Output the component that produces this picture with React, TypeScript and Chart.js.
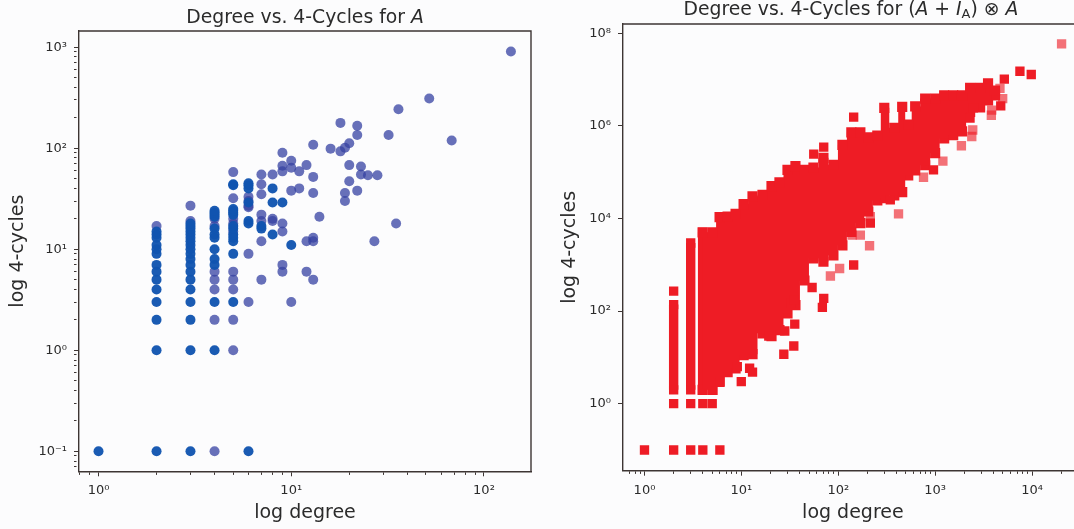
import React, { useEffect, useRef } from "react";
import { Chart, registerables } from "chart.js";

Chart.register(...registerables);

// ---------- Left panel: (degree, 4-cycles); zero counts are plotted at 0.1
const singlePoints = [
  [138, 905], [52, 310], [36, 243], [68, 119], [32, 135], [22, 167], [22, 135], [18, 178], [20, 112], [19, 101], [18, 93],
  [16, 99], [13, 108], [9, 90], [10, 75], [10, 64], [9, 67], [9, 59], [11, 59], [12, 68], [8, 55], [13, 52], [20, 68],
  [23, 66], [23, 55], [25, 54], [28, 54], [20, 47], [22, 38], [19, 36], [19, 30], [13, 36], [10, 38], [11, 40], [14, 21],
  [35, 18], [27, 12], [8, 20], [8, 19], [9, 18], [9, 15], [12, 12], [13, 13], [13, 12], [9, 7], [9, 6], [12, 6], [13, 5],
  [10, 3], [7, 5], [7, 55], [7, 44], [7, 35], [7, 22], [7, 19], [7, 12], [6, 9], [6, 3], [6, 33], [6, 30], [6, 27], [6, 26],
  [5, 58], [5, 32], [5, 20], [5, 18], [5, 15], [5, 6], [5, 5], [5, 4], [5, 2], [5, 1], [4, 6], [4, 5], [4, 4], [4, 2], [4, 0.1],
  [4, 20], [4, 17], [3, 27], [3, 19], [2, 17],
];
const densePoints = [
  [1, 0.1], [2, 0.1], [3, 0.1], [6, 0.1], [2, 1], [3, 1], [4, 1], [2, 2], [3, 2], [2, 3], [3, 3], [4, 3], [5, 3],
  [2, 4], [2, 5], [2, 6], [2, 7], [2, 9], [2, 10], [2, 11], [2, 13], [2, 14], [2, 15],
  [3, 4], [3, 5], [3, 6], [3, 7], [3, 8], [3, 9], [3, 10], [3, 11], [3, 12], [3, 13], [3, 14], [3, 15], [3, 16], [3, 17], [3, 18],
  [4, 7], [4, 8], [4, 10], [4, 13], [4, 14], [4, 16], [4, 21], [4, 22], [4, 23], [4, 24],
  [5, 9], [5, 12], [5, 13], [5, 14], [5, 16], [5, 17], [5, 22], [5, 23], [5, 24], [5, 25], [5, 43], [5, 44],
  [6, 18], [6, 19], [6, 29], [6, 40], [6, 43], [6, 45], [7, 16], [7, 17], [8, 14], [8, 29], [8, 40], [9, 29], [10, 11],
];

// ---------- Right panel: log10 values
const massLogDegree = [0.6, 0.703, 0.775, 0.858, 0.94, 1.023, 1.115, 1.218, 1.311, 1.393, 1.476, 1.558, 1.651, 1.744, 1.847, 1.95, 2.043, 2.135, 2.228, 2.31, 2.403, 2.475, 2.578, 2.66, 2.722, 2.794, 2.897, 3.0, 3.093, 3.186, 3.278, 3.361, 3.464, 3.546, 3.618];
const massLogCyclesHigh = [3.7, 3.7, 4.03, 4.04, 4.1, 4.31, 4.48, 4.51, 4.7, 4.78, 5.05, 5.13, 5.05, 5.1, 5.31, 5.16, 5.59, 5.86, 5.86, 5.75, 5.79, 6.39, 5.96, 6.41, 6.03, 6.42, 6.59, 6.59, 6.66, 6.66, 6.66, 6.82, 6.82, 6.92, 6.76];
const massLogCyclesLow = [0.3, 0.3, 0.47, 0.68, 0.76, 1.05, 1.07, 1.52, 1.46, 1.59, 1.95, 2.13, 2.66, 3.14, 3.07, 3.2, 3.42, 3.71, 3.9, 4.15, 4.39, 4.44, 4.5, 4.57, 4.93, 5.04, 5.15, 5.41, 5.73, 5.8, 5.88, 6.3, 6.4, 6.55, 6.66];
const degreeTwoRun = [[0.301, 2.14], [0.301, 0.3]];
const degreeThreeRun = [[0.477, 3.47], [0.477, 0.3]];
const degreeFourRun = [[0.6, 3.7], [0.6, 0.3]];
const massEndRun = [[3.618, 6.76], [3.618, 6.66]];
const solidSquares = [
  [0, -1], [0.301, -1], [0.477, -1], [0.602, -1], [0.778, -1], [0.301, 0], [0.477, 0], [0.602, 0], [0.699, 0], [0.301, 2.43],
  [0.999, 0.475], [1.085, 0.765], [1.115, 0.68], [0.958, 0.8], [0.779, 0.475], [1.438, 1.067], [1.541, 1.246], [1.448, 1.57], [1.551, 1.72],
  [1.283, 1.46], [1.73, 2.51], [1.836, 2.08], [1.85, 2.276], [1.514, 2.168], [1.541, 2.24], [2.159, 2.996], [2.331, 3.9], [2.159, 6.19], [1.85, 5.54], [1.747, 5.39],
  [2.983, 5.05], [3.677, 6.43], [3.714, 7.01], [3.875, 7.18], [3.992, 7.11], [3.395, 6.39], [3.36, 6.17], [2.537, 4.4],
];
const faintSquares = [
  [4.305, 7.77], [2.622, 4.1], [2.323, 3.41], [2.014, 2.92], [1.919, 2.758], [2.88, 4.89], [3.08, 5.24], [3.271, 5.57], [3.378, 5.77], [3.388, 5.91],
  [3.58, 6.23], [3.697, 6.59], [3.669, 6.81], [2.228, 3.64], [2.142, 3.64], [2.331, 4.04], [3.584, 6.34],
];

const leftTitleRuns = [["Degree vs. 4-Cycles for ", "n"], ["A", "i"]];
const rightTitleRuns = [["Degree vs. 4-Cycles for (", "n"], ["A", "i"], [" + ", "n"], ["I", "i"], ["A", "s"], [") ⊗ ", "n"], ["A", "i"]];

const INK = "#2b2b2b";
const EDGE = "#3d3533";
const FONT = "'DejaVu Sans'";
const RED = "#ee1c25";
const RED_FAINT = "rgba(238,28,37,0.62)";

const fromLog = (pairs: number[][]) => pairs.map(([x, y]) => ({ x: 10 ** x, y: 10 ** y }));
const fromPairs = (pairs: number[][]) => pairs.map(([x, y]) => ({ x, y }));
const isDecade = (v: number) => Math.abs(Math.log10(v) - Math.round(Math.log10(v))) < 1e-9;

const logAxis = (o: any) => ({
  type: "logarithmic",
  min: o.min,
  max: o.max,
  afterFit: (s: any) => {
    if (o.size.w !== undefined) s.width = o.size.w;
    if (o.size.h !== undefined) s.height = o.size.h;
  },
  afterBuildTicks: (s: any) => {
    const out: any[] = [];
    for (let e = Math.floor(Math.log10(o.min)); e <= Math.ceil(Math.log10(o.max)); e++) {
      if (o.every && e % o.every !== 0) continue;
      for (let k = 1; k <= (o.minor ? 9 : 1); k++) {
        const value = Number(`${k}e${e}`);
        if (value >= o.min && value <= o.max) out.push({ value, major: k === 1 });
      }
    }
    s.ticks = out;
  },
  title: {
    display: true,
    text: o.label,
    color: INK,
    font: { family: FONT, size: 19 },
    padding: o.titlePadding,
  },
  border: { display: true, color: EDGE, width: 1.4 },
  grid: {
    display: true,
    drawOnChartArea: false,
    drawTicks: true,
    tickLength: 5,
    tickColor: EDGE,
    tickWidth: 1,
    tickBorderDash: (c: any) => (c.tick && isDecade(c.tick.value) ? [] : [2.5, 10]),
  },
  ticks: {
    autoSkip: false,
    maxRotation: 0,
    minRotation: 0,
    padding: o.tickPadding,
    color: INK,
    font: { family: FONT, size: 13 },
    callback: (v: number) => {
      if (!isDecade(v)) return "";
      const sup: Record<string, string> = { "-": "⁻", "0": "⁰", "1": "¹", "2": "²", "3": "³", "4": "⁴", "6": "⁶", "8": "⁸" };
      const e = String(Math.round(Math.log10(v)));
      return "10" + e.split("").map((c) => sup[c]).join("");
    },
  },
});

const framePlugin = (runs: string[][], baseline: number, centerShift: number, closeRight: boolean) => ({
  id: "frameAndTitle",
  afterDraw(chart: any) {
    const { ctx, chartArea: a } = chart;
    ctx.save();
    ctx.strokeStyle = EDGE;
    ctx.lineWidth = 1.4;
    ctx.beginPath();
    ctx.moveTo(a.left, a.top);
    ctx.lineTo(a.right, a.top);
    if (closeRight) ctx.lineTo(a.right, a.bottom);
    ctx.stroke();
    const fontOf = (k: string) =>
      k === "i" ? `italic 18.8px ${FONT}` : k === "s" ? `13px ${FONT}` : `18.8px ${FONT}`;
    let width = 0;
    runs.forEach(([t, k]) => {
      ctx.font = fontOf(k);
      width += ctx.measureText(t).width;
    });
    let x = (a.left + a.right) / 2 + centerShift - width / 2;
    ctx.fillStyle = INK;
    ctx.textAlign = "left";
    ctx.textBaseline = "alphabetic";
    runs.forEach(([t, k]) => {
      ctx.font = fontOf(k);
      ctx.fillText(t, x, baseline + (k === "s" ? 3 : 0));
      x += ctx.measureText(t).width;
    });
    ctx.restore();
  },
});

export default function App() {
  const leftRef = useRef<HTMLCanvasElement>(null);
  const rightRef = useRef<HTMLCanvasElement>(null);

  useEffect(() => {
    const squares = { pointStyle: "rect", pointRadius: 6.6, pointBorderWidth: 0 };
    const massSquares = { pointStyle: "rect", pointRadius: 7.2, pointBorderWidth: 0 };
    const run = (label: string, pairs: number[][]) => ({
      label,
      data: fromLog(pairs),
      showLine: true,
      borderColor: RED,
      borderWidth: 9.4,
      backgroundColor: RED,
      ...squares,
    });
    const left = new Chart(leftRef.current as any, {
      type: "scatter",
      data: {
        datasets: [
          { label: "repeated", data: fromPairs(densePoints), backgroundColor: "rgba(17,84,176,0.96)", pointRadius: 5, pointBorderWidth: 0 },
          { label: "A", data: fromPairs(singlePoints), backgroundColor: "rgba(53,66,162,0.75)", pointRadius: 5, pointBorderWidth: 0 },
        ],
      },
      options: {
        animation: false,
        responsive: false,
        layout: { padding: { top: 31, right: 9, left: 0, bottom: 0 } },
        plugins: { legend: { display: false }, tooltip: { enabled: false } },
        scales: {
          x: logAxis({ min: 0.792, max: 175.4, minor: true, label: "log degree", size: { h: 57.7 }, tickPadding: 7, titlePadding: { top: 0, bottom: 4.6 } }),
          y: logAxis({ min: 0.0634, max: 1445, minor: true, label: "log 4-cycles", size: { w: 79 }, tickPadding: 7, titlePadding: { top: 6.6, bottom: 0 } }),
        },
      },
      plugins: [framePlugin(leftTitleRuns, 22.5, 0, true)],
    } as any);

    const massPts = (ys: number[]) => fromLog(massLogDegree.map((x, i) => [x, ys[i]]));
    const right = new Chart(rightRef.current as any, {
      type: "scatter",
      data: {
        datasets: [
          { label: "solid", data: fromLog(solidSquares), backgroundColor: RED, ...squares },
          { label: "high", data: massPts(massLogCyclesHigh), showLine: true, stepped: "middle", borderWidth: 0, fill: "+1", backgroundColor: RED, pointBackgroundColor: RED, ...massSquares },
          { label: "low", data: massPts(massLogCyclesLow), showLine: true, stepped: "middle", borderWidth: 0, backgroundColor: RED, ...massSquares },
          run("degree 2", degreeTwoRun),
          run("degree 3", degreeThreeRun),
          run("degree 4", degreeFourRun),
          run("mass end", massEndRun),
          { label: "faint", data: fromLog(faintSquares), backgroundColor: RED_FAINT, ...squares },
        ],
      },
      options: {
        animation: false,
        responsive: false,
        layout: { padding: { top: 24, right: 7, left: 0, bottom: 0 } },
        plugins: { legend: { display: false }, tooltip: { enabled: false } },
        scales: {
          x: logAxis({ min: 0.612, max: 33420, minor: true, label: "log degree", size: { h: 58.3 }, tickPadding: 7, titlePadding: { top: 0, bottom: 4.6 } }),
          y: logAxis({ min: 0.0357, max: 1.585e8, minor: false, every: 2, label: "log 4-cycles", size: { w: 78 }, tickPadding: 7, titlePadding: { top: 13.6, bottom: 0 } }),
        },
      },
      plugins: [framePlugin(rightTitleRuns, 14.5, -2, false)],
    } as any);

    return () => {
      left.destroy();
      right.destroy();
    };
  }, []);

  return (
    <div style={{ position: "fixed", left: 0, top: 0, width: 1074, height: 529, background: "#fcfcfd", overflow: "hidden" }}>
      <canvas ref={leftRef} width={540} height={529} style={{ position: "absolute", left: 0, top: 0 }} />
      <canvas ref={rightRef} width={545} height={529} style={{ position: "absolute", left: 545, top: 0 }} />
    </div>
  );
}
